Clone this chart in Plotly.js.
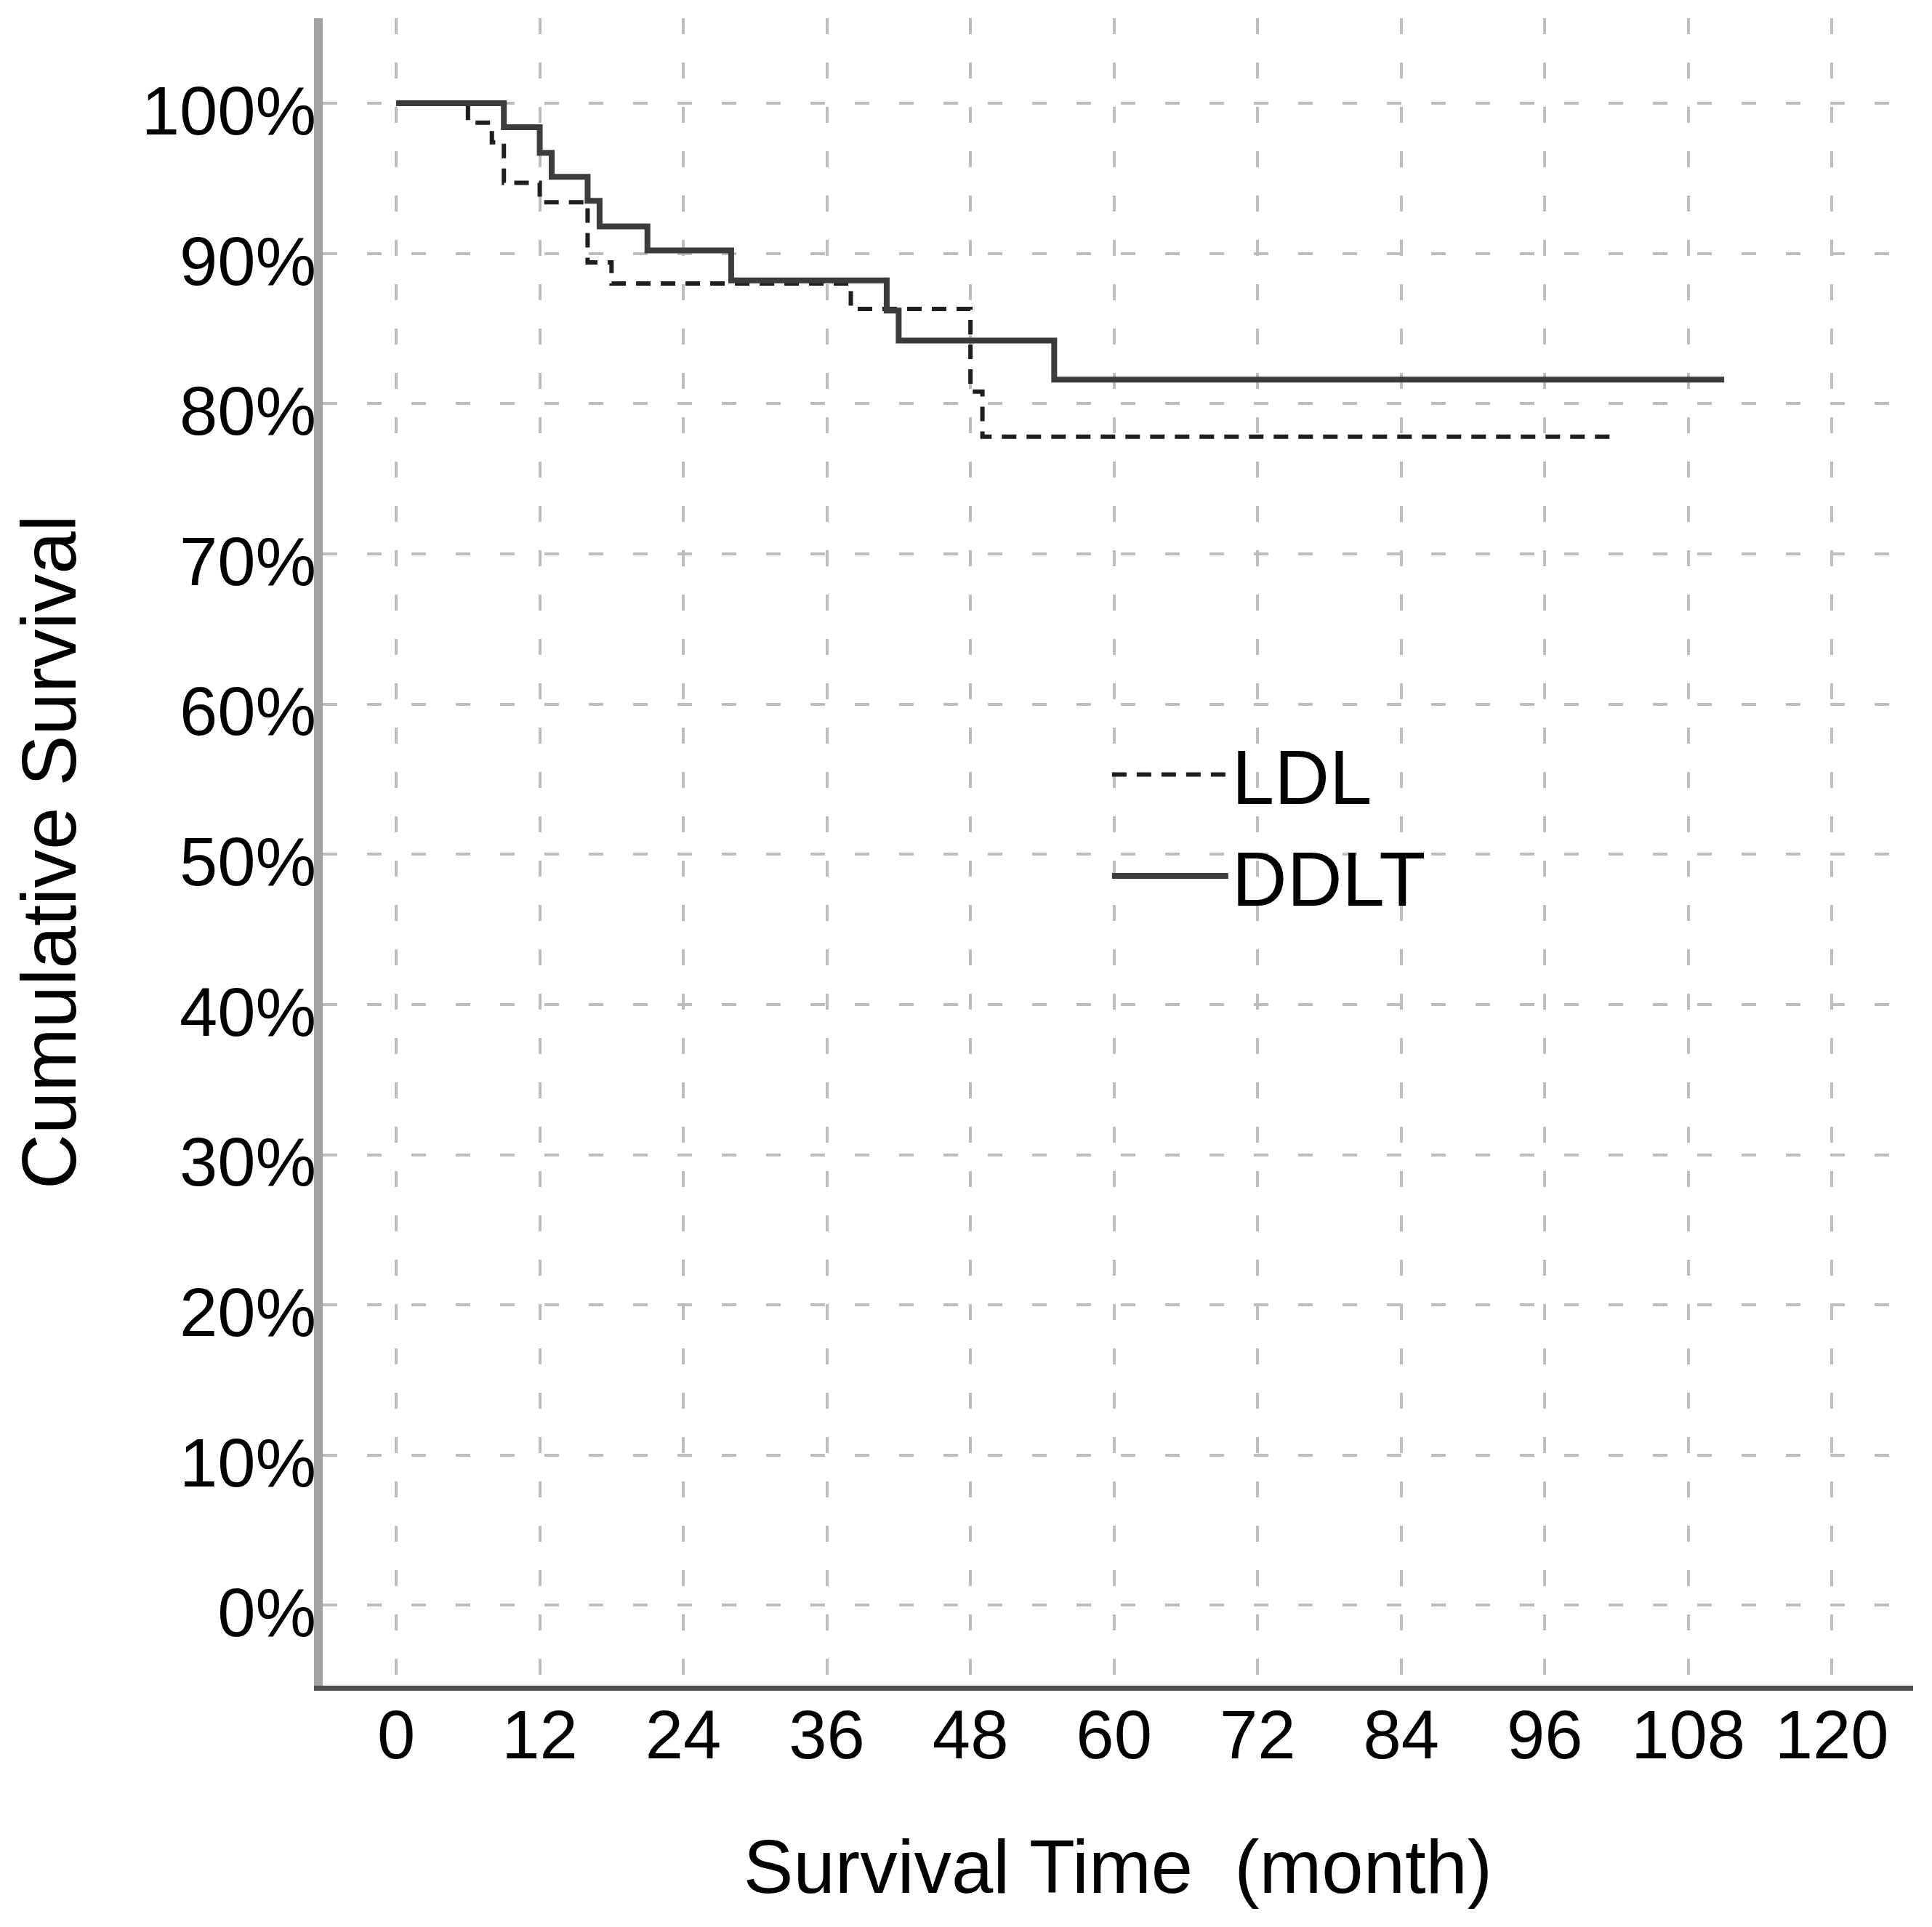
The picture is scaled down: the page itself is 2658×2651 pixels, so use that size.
<!DOCTYPE html>
<html>
<head>
<meta charset="utf-8">
<script src="https://cdn.plot.ly/plotly-3.0.1.min.js"></script>
<style>
  html, body { margin: 0; padding: 0; background: #fff; }
  #chart { width: 2658px; height: 2651px; }
</style>
</head>
<body>
<div id="chart"></div>
<script>
// Kaplan-Meier steps (months, % surviving)
var ldlMonths = [0, 6, 8, 9, 12, 16, 18, 38, 48, 49, 102];
var ldlSurvival = [100, 98.7, 97.4, 94.7, 93.4, 89.4, 88.0, 86.3, 80.8, 77.8, 77.8];

var ddltMonths = [0, 9, 12, 13, 16, 17, 21, 28, 41, 42, 55, 111];
var ddltSurvival = [100, 98.4, 96.7, 95.1, 93.5, 91.8, 90.2, 88.2, 86.2, 84.2, 81.6, 81.6];

var monthTicks = [0, 12, 24, 36, 48, 60, 72, 84, 96, 108, 120];
var survivalTicks = [0, 10, 20, 30, 40, 50, 60, 70, 80, 90, 100];

var fontFamily = '"Liberation Sans", Arial, sans-serif';

var ldl = {
    x: ldlMonths,
    y: ldlSurvival,
    name: 'LDL',
    type: 'scatter',
    mode: 'lines',
    line: { shape: 'hv', color: '#1e1e1e', width: 6, dash: '20px,14px' }
};

var ddlt = {
    x: ddltMonths,
    y: ddltSurvival,
    name: 'DDLT',
    type: 'scatter',
    mode: 'lines',
    line: { shape: 'hv', color: '#3c3c3c', width: 8 }
};

var layout = {
    width: 2658,
    height: 2651,
    margin: { l: 444, r: 26, t: 25, b: 332 },
    paper_bgcolor: '#ffffff',
    plot_bgcolor: '#ffffff',
    font: { family: fontFamily, color: '#000000', size: 94 },
    showlegend: true,
    legend: {
        x: 0.494,
        y: 0.579,
        xanchor: 'left',
        yanchor: 'top',
        itemwidth: 160,
        bgcolor: 'rgba(0,0,0,0)',
        font: { family: fontFamily, size: 105, color: '#000000' }
    },
    xaxis: {
        range: [-6.14, 126.79],
        tickvals: monthTicks,
        ticktext: monthTicks.map(String),
        ticks: '',
        showline: true,
        linecolor: '#505050',
        linewidth: 7,
        showgrid: true,
        gridcolor: '#bdbdbd',
        gridwidth: 4,
        griddash: '22px,39px',
        zeroline: false,
        ticklabelstandoff: -20,
        tickfont: { family: fontFamily, size: 94, color: '#000000' },
        title: {
            text: 'Survival Time\u00a0 (month)',
            font: { family: fontFamily, size: 103, color: '#000000' },
            standoff: 97
        },
        automargin: false
    },
    yaxis: {
        range: [-5.35, 105.66],
        tickvals: survivalTicks,
        ticktext: survivalTicks.map(function(v) { return v + '%'; }),
        ticks: '',
        showline: true,
        linecolor: '#a3a3a3',
        linewidth: 12,
        showgrid: true,
        gridcolor: '#bdbdbd',
        gridwidth: 4,
        griddash: '20px,41px',
        zeroline: false,
        ticklabelshift: 10,
        ticklabelstandoff: -22,
        tickfont: { family: fontFamily, size: 94, color: '#000000' },
        title: {
            text: 'Cumulative Survival',
            font: { family: fontFamily, size: 105, color: '#000000' },
            standoff: 60
        },
        automargin: false
    }
};

Plotly.newPlot('chart', [ldl, ddlt], layout, { staticPlot: true, displayModeBar: false });
</script>
</body>
</html>
